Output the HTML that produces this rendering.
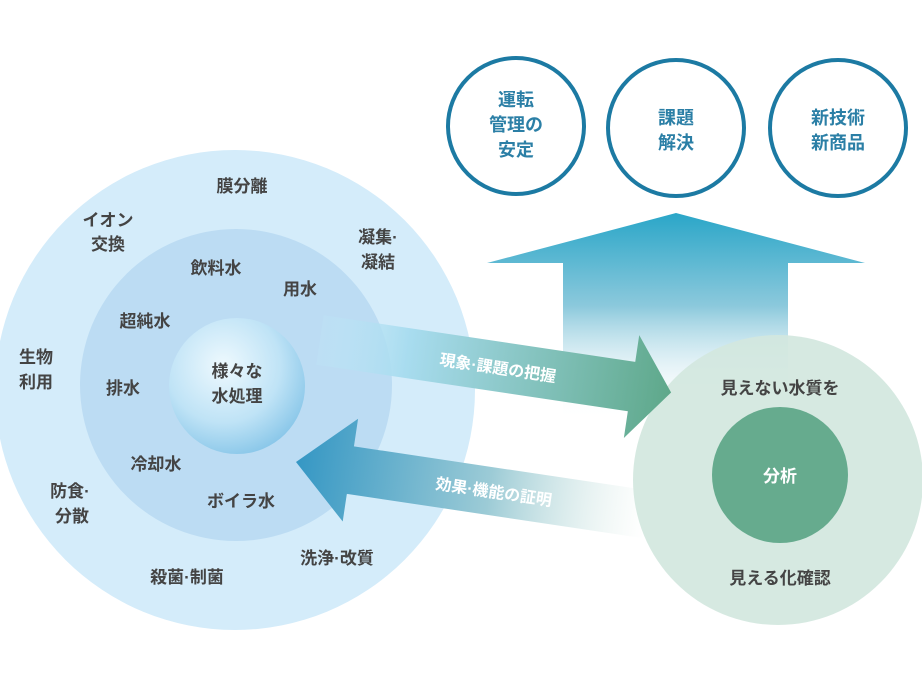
<!DOCTYPE html>
<html><head><meta charset="utf-8"><style>
html,body{margin:0;padding:0;background:#fff;}
svg text{font-family:"Liberation Sans","Noto Sans CJK JP",sans-serif;font-weight:bold;}
</style></head><body>
<svg width="922" height="692" viewBox="0 0 922 692" xmlns="http://www.w3.org/2000/svg">
<defs>
<radialGradient id="drop" cx="0.4" cy="0.35" r="0.7">
<stop offset="0" stop-color="#eef9fe"/><stop offset="0.6" stop-color="#bfe3f6"/><stop offset="1" stop-color="#86c5e8"/>
</radialGradient>
<linearGradient id="up" x1="0" y1="0" x2="0" y2="1">
<stop offset="0" stop-color="#2aa6c8"/><stop offset="0.45" stop-color="#8cc9dc"/><stop offset="1" stop-color="#ffffff" stop-opacity="0"/>
</linearGradient>
<linearGradient id="ra" x1="0" y1="0" x2="1" y2="0">
<stop offset="0" stop-color="#bfe6f7" stop-opacity="0.3"/><stop offset="0.25" stop-color="#a8dcef"/><stop offset="1" stop-color="#5ea88a"/>
</linearGradient>
<linearGradient id="la" x1="0" y1="0" x2="1" y2="0">
<stop offset="0" stop-color="#3597c4"/><stop offset="0.55" stop-color="#9ccbd6"/><stop offset="1" stop-color="#d6e9e1" stop-opacity="0"/>
</linearGradient>
</defs>
<g fill="#fff" stroke="#1c7aa3" stroke-width="4">
<circle cx="516" cy="126" r="68"/>
<circle cx="676" cy="128" r="68"/>
<circle cx="838" cy="128" r="68"/>
</g>
<g fill="#2b7fa6" font-size="18" text-anchor="middle">
<text x="516" y="106">運転</text><text x="516" y="131">管理の</text><text x="516" y="156">安定</text>
<text x="676" y="124">課題</text><text x="676" y="149">解決</text>
<text x="838" y="124">新技術</text><text x="838" y="149">新商品</text>
</g>
<polygon points="676,213 865,263 788,263 788,420 563,420 563,263 487,263" fill="url(#up)"/>
<circle cx="778" cy="480" r="145" fill="#d3e7de" opacity="0.92"/>
<circle cx="780" cy="475" r="68" fill="#66ab8e"/>
<text x="780" y="482" font-size="17" fill="#fff" text-anchor="middle">分析</text>
<text x="780" y="394" font-size="17" fill="#444" text-anchor="middle">見えない水質を</text>
<text x="780" y="584" font-size="17" fill="#444" text-anchor="middle">見える化確認</text>
<circle cx="235" cy="390" r="240" fill="#d4ecfa"/>
<circle cx="236" cy="385" r="156" fill="#bcdcf3"/>
<circle cx="237" cy="386" r="68" fill="url(#drop)"/>
<g fill="#444" font-size="17" text-anchor="middle">
<text x="237" y="377">様々な</text><text x="237" y="402">水処理</text>
<text x="242" y="192">膜分離</text>
<text x="108" y="226">イオン</text><text x="108" y="250">交換</text>
<text x="378" y="243">凝集·</text><text x="378" y="268">凝結</text>
<text x="216" y="274">飲料水</text>
<text x="300" y="295">用水</text>
<text x="145" y="327">超純水</text>
<text x="36" y="363">生物</text><text x="36" y="388">利用</text>
<text x="123" y="394">排水</text>
<text x="156" y="470">冷却水</text>
<text x="241" y="507">ボイラ水</text>
<text x="70" y="497">防食·</text><text x="72" y="522">分散</text>
<text x="337" y="564">洗浄·改質</text>
<text x="187" y="583">殺菌·制菌</text>
</g>
<g transform="translate(320,340) rotate(8.5)">
<polygon points="0,-25 315,-25 315,-52 355,0 315,52 315,25 0,25" fill="url(#ra)"/>
<text x="180" y="7" font-size="16" fill="#fff" text-anchor="middle">現象·課題の把握</text>
</g>
<g transform="translate(296,462) rotate(8.5)">
<polygon points="0,0 55,-52 55,-24 355,-24 355,24 55,24 55,52" fill="url(#la)"/>
<text x="200" y="6" font-size="16" fill="#fff" text-anchor="middle">効果·機能の証明</text>
</g>
</svg>
</body></html>
